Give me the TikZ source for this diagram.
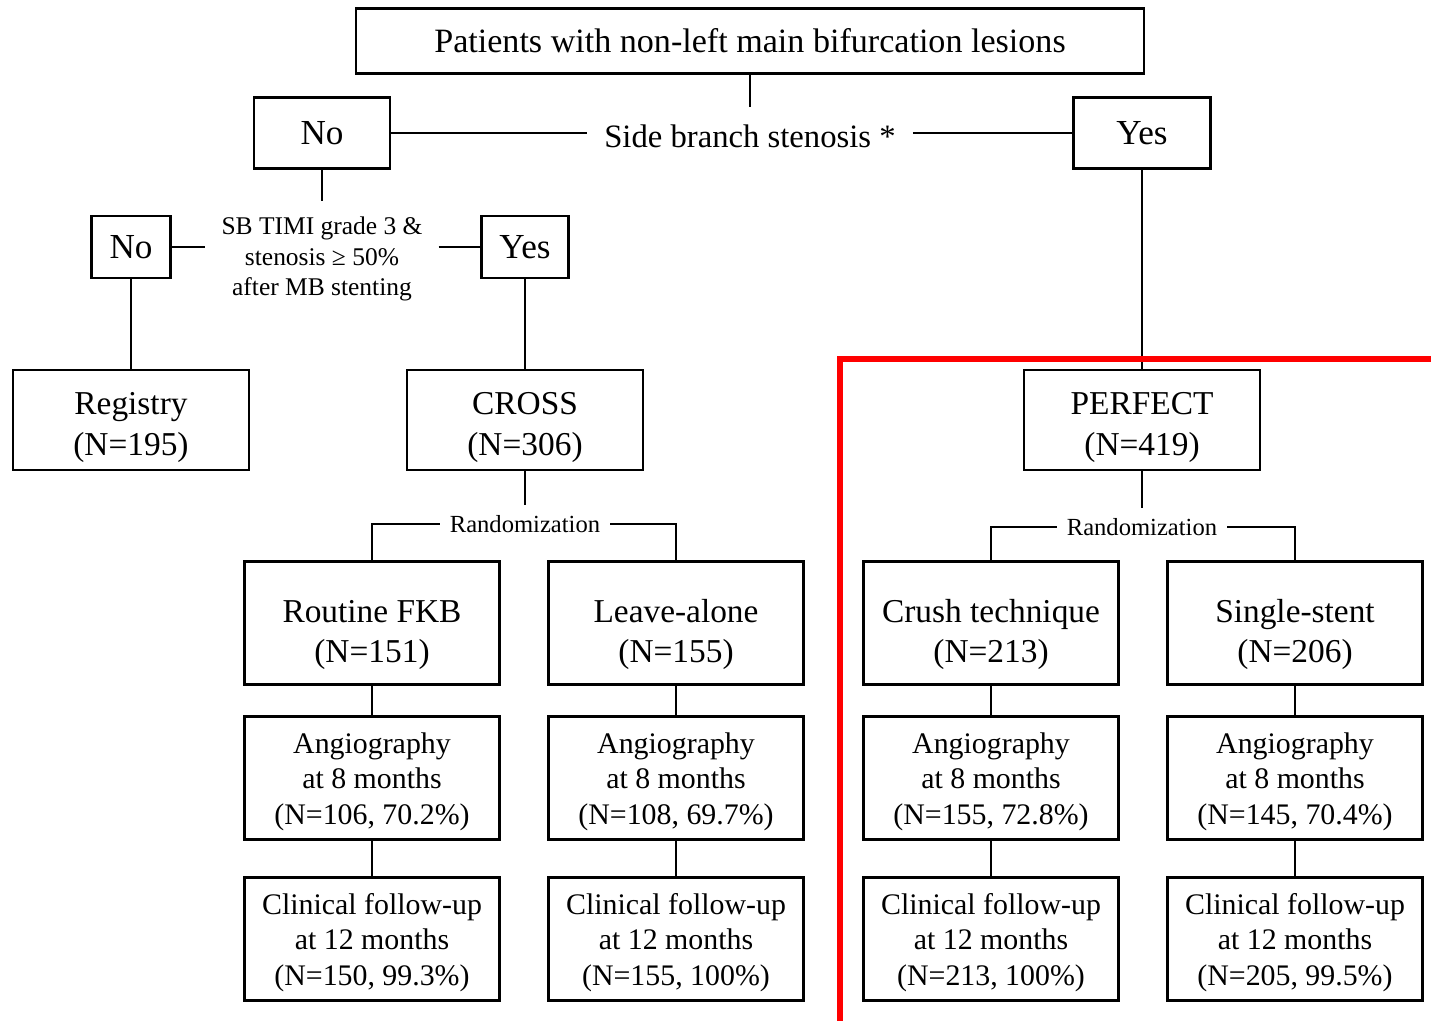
\documentclass[tikz,border=0pt]{standalone}
\usepackage{fontspec}
\setmainfont{Liberation Serif}
\usepackage{tikz}

\newcommand{\lift}[1]{\rule{0pt}{#1}}

\begin{document}
\begin{tikzpicture}[x=0.02cm, y=-0.02cm, line width=1.3pt,
		box/.style={draw, align=center, inner sep=0pt},
		grp/.style={box, minimum width=4.72cm, minimum height=2cm, font=\fontsize{19}{23}\selectfont},
		arm/.style={box, minimum width=5.1cm, minimum height=2.46cm, font=\fontsize{19}{23}\selectfont},
		fup/.style={box, minimum width=5.1cm, minimum height=2.46cm, font=\fontsize{17}{20}\selectfont},
		yn/.style={box, minimum height=1.42cm, font=\fontsize{20}{24}\selectfont},
		lbl/.style={align=center, inner sep=0.18cm}]
		\useasboundingbox (0,0) rectangle (1431,1021);
		\node[box, minimum width=15.76cm, minimum height=1.3cm, font=\fontsize{19.4}{23}\selectfont] (top) at (750,41) {Patients with non-left main bifurcation lesions};
		\node[lbl, inner sep=0.32cm, font=\fontsize{18.6}{22}\selectfont] (sbs) at (750,136) {Side branch stenosis *};
		\node[yn, minimum width=2.72cm] (no1) at (322,133) {No};
		\node[yn, minimum width=2.74cm] (yes1) at (1142,133) {Yes};
		\draw (top) -- (sbs);
		\draw (no1.east) -- (no1.east -| sbs.west);
		\draw (yes1.west -| sbs.east) -- (yes1.west);
		\node[lbl, inner sep=0.3cm, font=\fontsize{14.5}{17.5}\selectfont] (timi) at (322,259) {SB TIMI grade 3 \&\\stenosis ≥ 50\%\\after MB stenting};
		\node[yn, minimum width=1.58cm, minimum height=1.24cm] (no2) at (131,247) {No};
		\node[yn, minimum width=1.74cm, minimum height=1.24cm] (yes2) at (525,247) {Yes};
		\draw (no1) -- (timi);
		\draw (no2.east) -- (no2.east -| timi.west);
		\draw (yes2.west -| timi.east) -- (yes2.west);
		\node[grp] (reg) at (131,420) {\lift{21pt}Registry\\(N=195)};
		\node[grp] (cross) at (525,420) {\lift{21pt}CROSS\\(N=306)};
		\node[grp] (perf) at (1142,420) {\lift{21pt}PERFECT\\(N=419)};
		\draw (no2) -- (reg);
		\draw (yes2) -- (cross);
		\draw (yes1) -- (perf);
		% randomization of the two trials
		\node[lbl, font=\fontsize{14}{17}\selectfont] (rand1) at (525,524) {Randomization};
		\node[lbl, font=\fontsize{14}{17}\selectfont] (rand2) at (1142,527) {Randomization};
		\node[arm] (fkb) at (372,623) {\lift{26pt}Routine FKB\\(N=151)};
		\node[arm] (leave) at (676,623) {\lift{26pt}Leave-alone\\(N=155)};
		\node[arm] (crush) at (991,623) {\lift{26pt}Crush technique\\(N=213)};
		\node[arm] (single) at (1295,623) {\lift{26pt}Single-stent\\(N=206)};
		\draw (cross) -- (rand1);
		\draw (rand1.west) -| (fkb);
		\draw (rand1.east) -| (leave);
		\draw (perf) -- (rand2);
		\draw (rand2.west) -| (crush);
		\draw (rand2.east) -| (single);
		% follow-up of each arm
		\node[fup] (afkb) at (372,778) {\lift{16pt}Angiography\\at 8 months\\(N=106, 70.2\%)};
		\node[fup] (aleave) at (676,778) {\lift{16pt}Angiography\\at 8 months\\(N=108, 69.7\%)};
		\node[fup] (acrush) at (991,778) {\lift{16pt}Angiography\\at 8 months\\(N=155, 72.8\%)};
		\node[fup] (asingle) at (1295,778) {\lift{16pt}Angiography\\at 8 months\\(N=145, 70.4\%)};
		\node[fup] (cfkb) at (372,939) {\lift{16pt}Clinical follow-up\\at 12 months\\(N=150, 99.3\%)};
		\node[fup] (cleave) at (676,939) {\lift{16pt}Clinical follow-up\\at 12 months\\(N=155, 100\%)};
		\node[fup] (ccrush) at (991,939) {\lift{16pt}Clinical follow-up\\at 12 months\\(N=213, 100\%)};
		\node[fup] (csingle) at (1295,939) {\lift{16pt}Clinical follow-up\\at 12 months\\(N=205, 99.5\%)};
		\foreach \a in {fkb, leave, crush, single} {
			\draw (\a) -- (a\a);
			\draw (a\a) -- (c\a);
		}
		\draw[red, line width=3pt] (840,359) rectangle (1450,1040);
	\end{tikzpicture}
\end{document}
